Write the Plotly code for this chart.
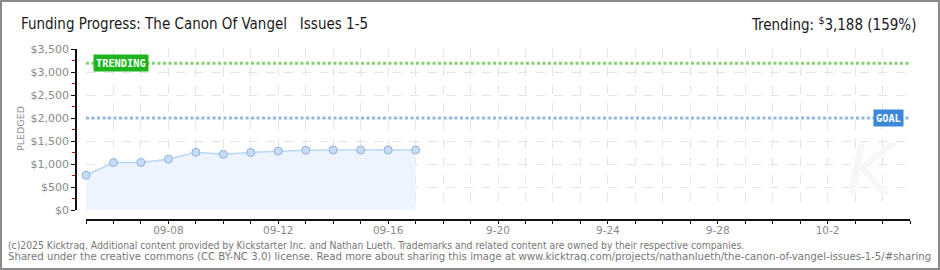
import plotly.graph_objects as go

# ---------------- data ----------------
dates = ["2025-09-05", "2025-09-06", "2025-09-07", "2025-09-08", "2025-09-09",
         "2025-09-10", "2025-09-11", "2025-09-12", "2025-09-13", "2025-09-14",
         "2025-09-15", "2025-09-16", "2025-09-17"]
pledged = [755, 1030, 1035, 1105, 1255, 1212, 1250, 1280, 1300, 1305, 1305, 1305, 1305]

goal = 2000
trending = 3188
trending_pct = 159

x_start = "2025-09-05"
x_end = "2025-10-05"
all_days = ["2025-09-%02d" % d for d in range(5, 31)] + ["2025-10-%02d" % d for d in range(1, 6)]
label_dates = ["2025-09-08", "2025-09-12", "2025-09-16", "2025-09-20",
               "2025-09-24", "2025-09-28", "2025-10-02"]
label_texts = ["09-08", "09-12", "09-16", "9-20", "9-24", "9-28", "10-2"]
y_ticks = [0, 500, 1000, 1500, 2000, 2500, 3000, 3500]
y_tick_labels = ["$0", "$500", "$1,000", "$1,500", "$2,000", "$2,500", "$3,000", "$3,500"]

title_text = "Funding Progress: The Canon Of Vangel &nbsp; Issues 1-5"
footer1 = ("(c)2025 Kicktraq. Additional content provided by Kickstarter Inc. and Nathan Lueth. "
           "Trademarks and related content are owned by their respective companies.")
footer2 = ("Shared under the creative commons (CC BY-NC 3.0) license. Read more about sharing this image at "
           "www.kicktraq.com/projects/nathanlueth/the-canon-of-vangel-issues-1-5/#sharing")

# ---------------- layout geometry ----------------
W, H = 940, 270
ML, MR, MT, MB = 76, 30, 49, 50
PW = W - ML - MR
PH = H - MT - MB


def px2x(px):
    return (px - ML) / PW


def px2y(py):
    return (H - MB - py) / PH


lbl_map = dict(zip(label_dates, label_texts))
tick_text = [lbl_map.get(d, "") for d in all_days]

tick_font = dict(family="DejaVu Sans, Verdana, sans-serif", size=11, color="#8a8a8a")
xtick_font = dict(family="DejaVu Sans, Verdana, sans-serif", size=10.5, color="#8a8a8a")
narrow = "Liberation Sans Narrow, DejaVu Sans Condensed, Arial Narrow, sans-serif"

fig = go.Figure()

fig.add_trace(go.Scatter(
    x=dates, y=pledged,
    mode="lines+markers",
    fill="tozeroy",
    fillcolor="#edf4fd",
    line=dict(color="#b9d7f5", width=1.5),
    marker=dict(size=8, color="#c6ddf7", line=dict(color="#93b1d6", width=1)),
    cliponaxis=False,
    hoverinfo="skip",
    showlegend=False,
))

shapes = [
    dict(type="line", xref="x domain", yref="y", x0=0, x1=1, y0=trending, y1=trending,
         line=dict(color="#84d174", width=3, dash="3px,2.5px"), layer="above"),
    dict(type="line", xref="x domain", yref="y", x0=0, x1=1, y0=goal, y1=goal,
         line=dict(color="#93b8e2", width=3, dash="3px,2.5px"), layer="above"),
    dict(type="rect", xref="paper", yref="paper",
         x0=px2x(1), x1=px2x(939), y0=px2y(1), y1=px2y(269),
         line=dict(color="#8a8a8a", width=2), fillcolor="rgba(0,0,0,0)", layer="above"),
]

annotations = [
    dict(text="K", xref="paper", yref="paper", x=px2x(872), y=px2y(170),
         showarrow=False, font=dict(family="DejaVu Sans", size=72, color="#f7f7f7", style="italic"),
         xanchor="center", yanchor="middle"),
    dict(text="<b>TRENDING</b>", xref="x", yref="y", x=x_start, y=trending, xshift=7,
         xanchor="left", yanchor="middle", showarrow=False,
         bgcolor="#1eb41e", borderpad=2,
         font=dict(family="DejaVu Sans Mono, monospace", size=10.3, color="white")),
    dict(text="<b>GOAL</b>", xref="x", yref="y", x=x_end, y=goal, xshift=-6,
         xanchor="right", yanchor="middle", showarrow=False,
         bgcolor="#3b88d8", borderpad=2,
         font=dict(family="DejaVu Sans Mono, monospace", size=10.3, color="white")),
    dict(text="PLEDGED", xref="paper", yref="paper", x=px2x(20), y=px2y(129),
         textangle=-90, showarrow=False, xanchor="center", yanchor="middle",
         font=dict(family="DejaVu Sans, sans-serif", size=9.5, color="#8a8a8a")),
    dict(text=title_text, xref="paper", yref="paper", x=px2x(19), y=px2y(24),
         xanchor="left", yanchor="middle", showarrow=False,
         font=dict(family=narrow, size=15, color="#1a1a1a")),
    dict(text="Trending: <sup>$</sup>%s (%d%%)" % (f"{trending:,}", trending_pct),
         xref="paper", yref="paper", x=px2x(918), y=px2y(24),
         xanchor="right", yanchor="middle", showarrow=False,
         font=dict(family=narrow, size=15, color="#1a1a1a")),
    dict(text=footer1, xref="paper", yref="paper", x=px2x(6), y=px2y(245),
         xanchor="left", yanchor="middle", showarrow=False,
         font=dict(family=narrow, size=10.3, color="#777777")),
    dict(text=footer2, xref="paper", yref="paper", x=px2x(6), y=px2y(256.5),
         xanchor="left", yanchor="middle", showarrow=False,
         font=dict(family=narrow, size=11.3, color="#777777")),
]

fig.update_layout(
    width=W, height=H,
    margin=dict(l=ML, r=MR, t=MT, b=MB, pad=0),
    paper_bgcolor="white", plot_bgcolor="white",
    shapes=shapes, annotations=annotations,
    xaxis=dict(
        type="date", range=[x_start, x_end],
        domain=[10 / PW, 1],
        anchor="free", position=0,
        tickmode="array", tickvals=all_days, ticktext=tick_text,
        ticks="outside", ticklen=3, tickcolor="#111", tickwidth=1.2,
        ticklabelstandoff=-2,
        showline=True, linecolor="#111", linewidth=1.5,
        showgrid=True, gridcolor="#e4e4e4", griddash="dash", gridwidth=1,
        zeroline=False, tickfont=xtick_font, fixedrange=True,
    ),
    yaxis=dict(
        range=[0, 3500],
        domain=[10 / PH, 1],
        anchor="free", position=0,
        tickmode="array", tickvals=y_ticks, ticktext=y_tick_labels,
        ticks="outside", ticklen=4, tickcolor="#111", tickwidth=1.2,
        minor=dict(ticks="outside", ticklen=3, tickcolor="#e00000", dtick=250, tick0=0, showgrid=False),
        showline=True, linecolor="#111", linewidth=1.5,
        showgrid=True, gridcolor="#e4e4e4", griddash="dash", gridwidth=1,
        zeroline=False, tickfont=tick_font, fixedrange=True,
    ),
)

fig.write_html("out.html", config={"displayModeBar": False})
